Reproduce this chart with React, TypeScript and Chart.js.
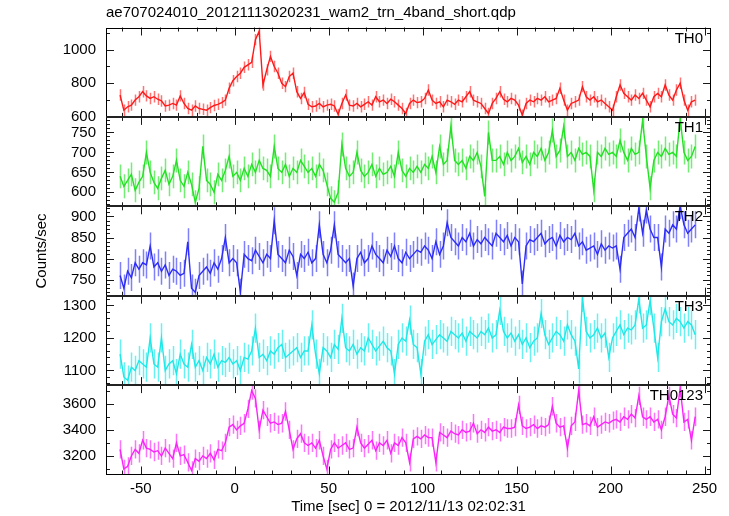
import React, { useEffect, useRef } from "react";
import { Chart, registerables } from "chart.js";

Chart.register(...registerables);

const FONT = '"Liberation Sans", Arial, Helvetica, sans-serif';

const TITLE = "ae707024010_20121113020231_wam2_trn_4band_short.qdp";
const X_TITLE = "Time [sec] 0 = 2012/11/13 02:02:31";
const Y_TITLE = "Counts/sec";

// time bins (sec), first bin centre and width
const T_START = -61;
const BIN_WIDTH = 2;
const X_MIN = -68.5;
const X_MAX = 253.4;

const PANEL_LABELS = ["TH0", "TH1", "TH2", "TH3", "TH0123"];

const TH0 = [
  730, 640, 660, 670, 700, 720, 750, 725, 710, 720,
  705, 695, 665, 670, 680, 670, 725, 680, 650, 640,
  665, 650, 645, 640, 655, 668, 675, 685, 700, 770,
  815, 840, 860, 895, 910, 925, 1060, 1110, 790, 880,
  960, 900, 860, 800, 780, 840, 860, 750, 710, 745,
  675, 660, 665, 680, 660, 670, 675, 665, 615, 680,
  730, 670, 665, 680, 660, 675, 690, 670, 720, 690,
  700, 680, 705, 690, 670, 650, 620, 680, 700, 685,
  690, 710, 760, 700, 680, 690, 660, 700, 690, 675,
  700, 690, 720, 750, 700, 690, 680, 650, 620, 680,
  710, 750, 705, 690, 710, 700, 670, 610, 680, 700,
  690, 710, 700, 720, 690, 700, 710, 770, 700, 640,
  680, 690, 700, 780, 720, 700, 720, 690, 700, 680,
  660, 640, 720, 790, 740, 720, 700, 730, 710, 740,
  700, 660, 720, 740, 720, 790, 730, 700, 760, 800,
  700, 640, 690, 700,
];

const TH1 = [
  640, 615, 630, 645, 605, 625, 640, 700, 650, 625,
  610, 635, 655, 620, 640, 680, 630, 615, 650, 620,
  575, 610, 715, 630, 620, 600, 645, 630, 655, 690,
  640, 650, 630, 660, 640, 670, 650, 680, 660, 655,
  640, 715, 660, 650, 670, 640, 660, 650, 680, 665,
  650, 660, 640, 670, 655, 620, 585, 575, 600, 720,
  660, 640, 650, 700, 655, 640, 650, 670, 640, 660,
  645, 650, 665, 640, 700, 655, 640, 660, 650, 665,
  650, 670, 660, 690, 650, 715, 670, 680, 765, 680,
  670, 680, 660, 690, 680, 700, 665, 590, 750, 680,
  680, 690, 670, 700, 680, 690, 710, 675, 690, 670,
  700, 690, 710, 680, 700, 755, 690, 705, 765, 690,
  700, 680, 710, 695, 700, 690, 605, 700, 690, 710,
  695, 700, 690, 730, 700, 680, 710, 695, 700, 780,
  690, 610, 680, 700, 690, 710, 695, 700, 690, 785,
  700, 680, 690, 715,
];

const TH2 = [
  760, 730, 770, 755, 790, 775, 790, 785, 830, 780,
  790, 770, 785, 760, 775, 770, 760, 765, 840, 730,
  720, 760, 770, 780, 765, 790, 775, 800, 850, 790,
  800, 790, 720, 810, 800, 795, 820, 805, 790, 810,
  800, 890, 810, 800, 790, 820, 805, 760, 810, 800,
  815, 790, 800, 880, 810, 790, 820, 880, 810, 800,
  790, 800, 735, 800, 815, 790, 800, 830, 810, 800,
  790, 820, 805, 830, 800, 790, 815, 800, 810, 820,
  815, 830, 820, 800, 840, 810, 830, 885, 850, 840,
  830, 850, 840, 860, 830, 845, 835, 850, 840, 830,
  860, 850, 840, 855, 830, 850, 840, 740, 830, 845,
  840, 850, 860, 835, 845, 850, 830, 855, 840, 850,
  845, 860, 830, 840, 820, 825, 830, 810, 835, 820,
  830, 825, 830, 775, 850, 860, 870, 850, 920, 860,
  915, 870, 850, 850, 780, 870, 860, 880, 870, 925,
  880, 860, 870, 880,
];

const TH3 = [
  1150, 1080, 1070, 1110, 1100, 1130, 1120, 1110, 1200, 1120,
  1110, 1200, 1100, 1120, 1130, 1090, 1150, 1120, 1110, 1180,
  1110, 1130, 1100, 1140, 1120, 1150, 1110, 1130, 1125, 1140,
  1120, 1130, 1100, 1140, 1135, 1160, 1230, 1140, 1150, 1130,
  1160, 1150, 1170, 1180, 1140, 1150, 1160, 1170, 1140, 1160,
  1160, 1240, 1150, 1090, 1170, 1160, 1140, 1180, 1165, 1260,
  1170, 1160, 1180, 1150, 1170, 1160, 1200, 1180, 1160, 1175,
  1190, 1170, 1160, 1090, 1180, 1200, 1190, 1255, 1180, 1170,
  1090, 1190, 1210, 1180, 1195, 1210, 1200, 1190, 1220, 1210,
  1200, 1215, 1190, 1220, 1210, 1200, 1220, 1210, 1230, 1200,
  1210, 1285, 1220, 1200, 1215, 1190, 1210, 1180, 1200, 1170,
  1190, 1200, 1275, 1210, 1180, 1200, 1220, 1210, 1190, 1240,
  1210, 1190, 1105, 1325, 1220, 1200, 1210, 1230, 1200, 1215,
  1140, 1200, 1220, 1240, 1210, 1230, 1225, 1240, 1320, 1230,
  1240, 1315, 1230, 1140, 1250, 1290, 1250, 1240, 1260, 1250,
  1230, 1250, 1240, 1210,
];

const TH0123 = [
  3250, 3100, 3120, 3200, 3250, 3220, 3320, 3260, 3250, 3230,
  3240, 3200, 3260, 3220, 3180, 3300, 3200, 3210, 3150, 3090,
  3180, 3160, 3200, 3180, 3220, 3170, 3250, 3240, 3300, 3420,
  3440, 3400, 3430, 3450, 3560, 3700, 3640, 3400, 3550, 3500,
  3450, 3460, 3440, 3450, 3540, 3400, 3250, 3330, 3370, 3300,
  3280, 3300, 3260, 3320, 3200, 3100, 3250, 3300, 3260, 3280,
  3300, 3250, 3260, 3420, 3300, 3260, 3290, 3320, 3240, 3300,
  3280, 3320, 3220, 3300, 3280, 3340, 3300, 3150, 3330, 3350,
  3330, 3360, 3340, 3340, 3150, 3380, 3360, 3340, 3390, 3370,
  3360, 3400, 3380, 3390, 3450, 3370, 3400, 3380, 3420, 3390,
  3400, 3380, 3420, 3410, 3410, 3420, 3590, 3430, 3410, 3420,
  3440, 3410, 3430, 3420, 3440, 3580, 3450, 3420, 3430, 3260,
  3430, 3460, 3700, 3440, 3450, 3430, 3500, 3420, 3440, 3460,
  3450, 3470, 3480, 3460, 3500, 3480, 3520, 3490, 3660, 3500,
  3480, 3500, 3460, 3480, 3400, 3500, 3660, 3520, 3490, 3720,
  3460, 3480, 3320, 3500,
];

const SERIES = [TH0, TH1, TH2, TH3, TH0123];
// typical 1-sigma error of a bin, per band (counts/sec)
const ERRORS = [34, 30, 32, 45, 70];

const AXIS_MIN = [600, 565, 712, 1055, 3058];
const AXIS_MAX = [1132, 789, 924, 1330, 3742];
const MAJOR_STEPS = [200, 50, 50, 100, 200];
const MINOR_STEPS = [100, 10, 10, 20, 100];

const LINE_COLORS = [
  "rgb(255,25,25)",
  "rgb(35,225,35)",
  "rgb(45,45,245)",
  "rgb(30,232,232)",
  "rgb(250,35,250)",
];
const ERR_COLORS = [
  "rgba(255,40,40,0.65)",
  "rgba(40,228,40,0.65)",
  "rgba(60,60,245,0.65)",
  "rgba(40,235,235,0.7)",
  "rgba(250,40,250,0.65)",
];

const PANEL_IDS = ["y0", "y1", "y2", "y3", "y4"];

const plainNumber = (v: any) => String(v);

const decorPlugin = {
  id: "panelDecor",
  beforeDatasetsDraw(chart: any) {
    const ctx = chart.ctx;
    const xs = chart.scales.x;
    chart.data.datasets.forEach((ds: any, i: number) => {
      const ys = chart.scales[ds.yAxisID];
      const err = ERRORS[i];
      ctx.save();
      ctx.beginPath();
      ctx.rect(xs.left, ys.top, xs.right - xs.left, ys.bottom - ys.top);
      ctx.clip();
      ctx.strokeStyle = ERR_COLORS[i];
      ctx.lineWidth = 1.5;
      ctx.beginPath();
      for (const p of ds.data) {
        const px = Math.round(xs.getPixelForValue(p.x)) + 0.5;
        ctx.moveTo(px, ys.getPixelForValue(p.y + err));
        ctx.lineTo(px, ys.getPixelForValue(p.y - err));
      }
      ctx.stroke();
      ctx.restore();
    });
  },
  afterDatasetsDraw(chart: any) {
    const ctx = chart.ctx;
    const xs = chart.scales.x;
    const L = xs.left;
    const R = xs.right;
    ctx.save();
    ctx.strokeStyle = "#1a1a1a";
    PANEL_IDS.forEach((id, i) => {
      const ys = chart.scales[id];
      const T = ys.top;
      const B = ys.bottom;
      ctx.lineWidth = 1;
      ctx.beginPath();
      for (let v = Math.ceil(X_MIN / 10) * 10; v <= X_MAX; v += 10) {
        const px = Math.round(xs.getPixelForValue(v)) + 0.5;
        const len = v % 50 === 0 ? 8 : 4;
        ctx.moveTo(px, T);
        ctx.lineTo(px, T + len);
        ctx.moveTo(px, B);
        ctx.lineTo(px, B - len);
      }
      const minor = MINOR_STEPS[i];
      const major = MAJOR_STEPS[i];
      for (let v = Math.ceil(AXIS_MIN[i] / minor) * minor; v <= AXIS_MAX[i]; v += minor) {
        const py = Math.round(ys.getPixelForValue(v)) + 0.5;
        const len = v % major === 0 ? 8 : 4;
        ctx.moveTo(L, py);
        ctx.lineTo(L + len, py);
        ctx.moveTo(R, py);
        ctx.lineTo(R - len, py);
      }
      ctx.stroke();
      ctx.fillStyle = "#000";
      ctx.font = `15px ${FONT}`;
      ctx.textAlign = "right";
      ctx.textBaseline = "middle";
      ctx.fillText(PANEL_LABELS[i], R - 8, T + 11);
    });
    const top = chart.scales[PANEL_IDS[0]].top;
    const bottom = chart.scales[PANEL_IDS[PANEL_IDS.length - 1]].bottom;
    ctx.lineWidth = 1;
    ctx.strokeStyle = "#000";
    ctx.strokeRect(Math.round(L) + 0.5, Math.round(top) + 0.5, Math.round(R - L) - 1, Math.round(bottom - top) - 1);
    ctx.lineWidth = 2;
    ctx.strokeStyle = "#222";
    ctx.beginPath();
    for (let i = 1; i < PANEL_IDS.length; i++) {
      const y = Math.round(chart.scales[PANEL_IDS[i]].top);
      ctx.moveTo(L, y);
      ctx.lineTo(R, y);
    }
    ctx.stroke();
    ctx.restore();
  },
};

export default function App() {
  const ref = useRef<HTMLCanvasElement | null>(null);

  useEffect(() => {
    const canvas = ref.current;
    if (!canvas) return;

    const datasets = SERIES.map((values, i) => ({
      label: PANEL_LABELS[i],
      data: values.map((v, k) => ({ x: T_START + k * BIN_WIDTH, y: v })),
      yAxisID: PANEL_IDS[i],
      xAxisID: "x",
      borderColor: LINE_COLORS[i],
      backgroundColor: LINE_COLORS[i],
      borderWidth: 1.4,
      pointRadius: 0,
      tension: 0,
      fill: false,
    }));

    const scales: any = {
      x: {
        type: "linear",
        position: "bottom",
        min: X_MIN,
        max: X_MAX,
        grid: { display: false, drawTicks: false },
        border: { display: false },
        ticks: {
          stepSize: 50,
          includeBounds: false,
          autoSkip: false,
          maxRotation: 0,
          padding: 5,
          color: "#000",
          font: { size: 15, family: FONT },
          callback: plainNumber,
        },
        title: {
          display: true,
          text: X_TITLE,
          color: "#000",
          font: { size: 15, family: FONT },
          padding: { top: 0, bottom: 0 },
        },
        afterFit: (s: any) => {
          s.height = 41.5;
        },
      },
    };
    PANEL_IDS.forEach((id, i) => {
      scales[id] = {
        type: "linear",
        position: "left",
        stack: "panels",
        stackWeight: 1,
        weight: PANEL_IDS.length - i,
        min: AXIS_MIN[i],
        max: AXIS_MAX[i],
        grid: { display: false, drawTicks: false },
        border: { display: false },
        ticks: {
          stepSize: MAJOR_STEPS[i],
          includeBounds: false,
          autoSkip: false,
          padding: 10,
          color: "#000",
          font: { size: 15, family: FONT },
          callback: plainNumber,
        },
        title:
          i === 2
            ? {
                display: true,
                text: Y_TITLE,
                color: "#000",
                font: { size: 15, family: FONT },
                padding: { top: 33, bottom: 0 },
              }
            : { display: false },
        afterFit: (s: any) => {
          s.width = 106;
        },
      };
    });

    const chart = new Chart(canvas, {
      type: "line",
      data: { datasets },
      options: {
        animation: false,
        responsive: true,
        maintainAspectRatio: false,
        layout: { padding: { left: 0, right: 18, top: 0, bottom: 0 } },
        plugins: {
          legend: { display: false },
          tooltip: { enabled: false },
          title: {
            display: true,
            text: TITLE,
            align: "start",
            fullSize: false,
            color: "#000",
            font: { size: 15, family: FONT, weight: "normal" },
            padding: { top: 4, bottom: 5.5 },
          },
        },
        scales,
      },
      plugins: [decorPlugin],
    });
    return () => chart.destroy();
  }, []);

  return (
    <div style={{ position: "absolute", left: 0, top: 0, width: 729, height: 516, background: "#fff" }}>
      <canvas ref={ref} />
    </div>
  );
}
